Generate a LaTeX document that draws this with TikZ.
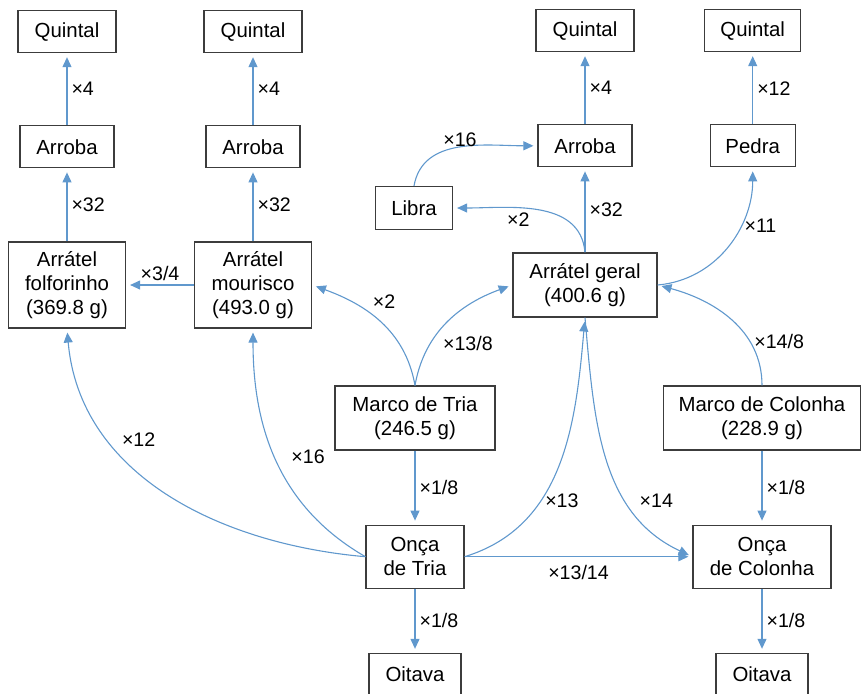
\documentclass[tikz,border=0pt]{standalone}
\usepackage{fontspec}
\setmainfont{Liberation Sans}
\usetikzlibrary{arrows.meta,positioning}
\definecolor{linkblue}{RGB}{96,152,205}
\definecolor{boxgray}{RGB}{60,60,60}
\tikzset{
  unit/.style={rectangle,draw=boxgray,line width=0.6pt,align=center,
    minimum height=21pt,inner sep=2pt,font=\fontsize{10.2}{12}\selectfont},
  twoline/.style={unit,minimum height=32pt},
  threeline/.style={unit,minimum height=43pt,minimum width=58.5pt},
  factor/.style={font=\fontsize{9.8}{11}\selectfont,text=black,inner sep=2pt},
  arrow/.style={-{Triangle[length=5pt,width=4.5pt]},draw=linkblue,
    line width=0.55pt,shorten >=2pt},
}

\begin{document}
\begin{tikzpicture}[x=0.5pt,y=0.5pt]
\useasboundingbox (0,0) rectangle (861,693);
% arratel boxes
\node[threeline] (folf) at (67,408) {Arrátel\\folforinho\\(369.8 g)};
\node[threeline] (mour) at (253,408) {Arrátel\\mourisco\\(493.0 g)};
\node[twoline,minimum width=72pt] (geral) at (585,408) {Arrátel geral\\(400.6 g)};
% upper chains
\node[unit,minimum width=47pt,above=36.5pt of folf] (arrobaF) {Arroba};
\node[unit,minimum width=49pt,above=36pt of arrobaF] (quintalF) {Quintal};
\node[unit,minimum width=47pt,above=36.5pt of mour] (arrobaM) {Arroba};
\node[unit,minimum width=49pt,above=36pt of arrobaM] (quintalM) {Quintal};
\node[unit,minimum width=47pt,above=42.5pt of geral] (arrobaG) {Arroba};
\node[unit,minimum width=49pt,above=36pt of arrobaG] (quintalG) {Quintal};
\node[unit,minimum width=42.5pt,right=38.5pt of arrobaG] (pedra) {Pedra};
\node[unit,minimum width=48pt,above=36pt of pedra] (quintalP) {Quintal};
\node[unit,minimum width=38.5pt,minimum height=21.5pt] (libra) at (414,485) {Libra};
% marcos and oncas
\node[twoline,minimum width=80pt] (marcoT) at (415,275) {Marco de Tria\\(246.5 g)};
\node[twoline,minimum width=98.5pt] (marcoC) at (762,275) {Marco de Colonha\\(228.9 g)};
\node[twoline,minimum width=49pt,minimum height=31.5pt,below=37pt of marcoT] (oncaT) {Onça\\de Tria};
\node[twoline,minimum width=69pt,minimum height=31.5pt,below=37pt of marcoC] (oncaC) {Onça\\de Colonha};
\node[unit,minimum width=46pt,below=32pt of oncaT] (oitavaT) {Oitava};
\node[unit,minimum width=46pt,below=32pt of oncaC] (oitavaC) {Oitava};

\draw[arrow] (arrobaF) -- node[factor,right]{×4} (quintalF);
\draw[arrow] (folf) -- node[factor,right]{×32} (arrobaF);
\draw[arrow] (arrobaM) -- node[factor,right]{×4} (quintalM);
\draw[arrow] (mour) -- node[factor,right]{×32} (arrobaM);
\draw[arrow] (mour) -- node[factor,above]{×3/4} (folf);
\draw[arrow] (arrobaG) -- node[factor,right]{×4} (quintalG);
\draw[arrow] (geral) -- node[factor,right]{×32} (arrobaG);
\draw[arrow] (pedra) -- node[factor,right]{×12} (quintalP);
\draw[arrow] (geral.north) to[out=95,in=0] node[factor,below,pos=0.62]{×2} (libra.east);
\draw[arrow] (libra.north) to[out=80,in=180] node[factor,above,pos=0.5,inner sep=0pt]{×16} (arrobaG.west);
\draw[arrow] (geral.east) to[out=5,in=-90] node[factor,right,pos=0.65]{×11} (pedra.south);
\draw[arrow] (marcoC.north) to[out=90,in=-15] node[factor,right,pos=0.3]{×14/8} (geral.east);
\draw[arrow] (marcoT.north) to[out=100,in=-20] node[factor,above right,pos=0.6]{×2} (mour.east);
\draw[arrow] (marcoT.north) to[out=80,in=200] node[factor,below right,pos=0.4]{×13/8} (geral.west);
\draw[arrow] (marcoT) -- node[factor,right]{×1/8} (oncaT);
\draw[arrow] (marcoC) -- node[factor,right]{×1/8} (oncaC);
\draw[arrow] (oncaT.west) to[out=175,in=-85] node[factor,right=4pt,pos=0.7]{×12} (folf.south);
\draw[arrow] (oncaT.west) to[out=150,in=-90] node[factor,right=6pt,pos=0.52]{×16} (mour.south);
\draw[arrow] (oncaT.east) to[out=17,in=-95] node[factor,right,pos=0.35]{×13} (geral.south);
\draw[arrow] (geral.south) to[out=-85,in=155] node[factor,right=4pt,pos=0.68]{×14} (oncaC.west);
\draw[arrow] (oncaT.east) -- node[factor,below,yshift=-2pt]{×13/14} (oncaC.west);
\draw[arrow] (oncaT) -- node[factor,right]{×1/8} (oitavaT);
\draw[arrow] (oncaC) -- node[factor,right]{×1/8} (oitavaC);
\end{tikzpicture}
\end{document}
